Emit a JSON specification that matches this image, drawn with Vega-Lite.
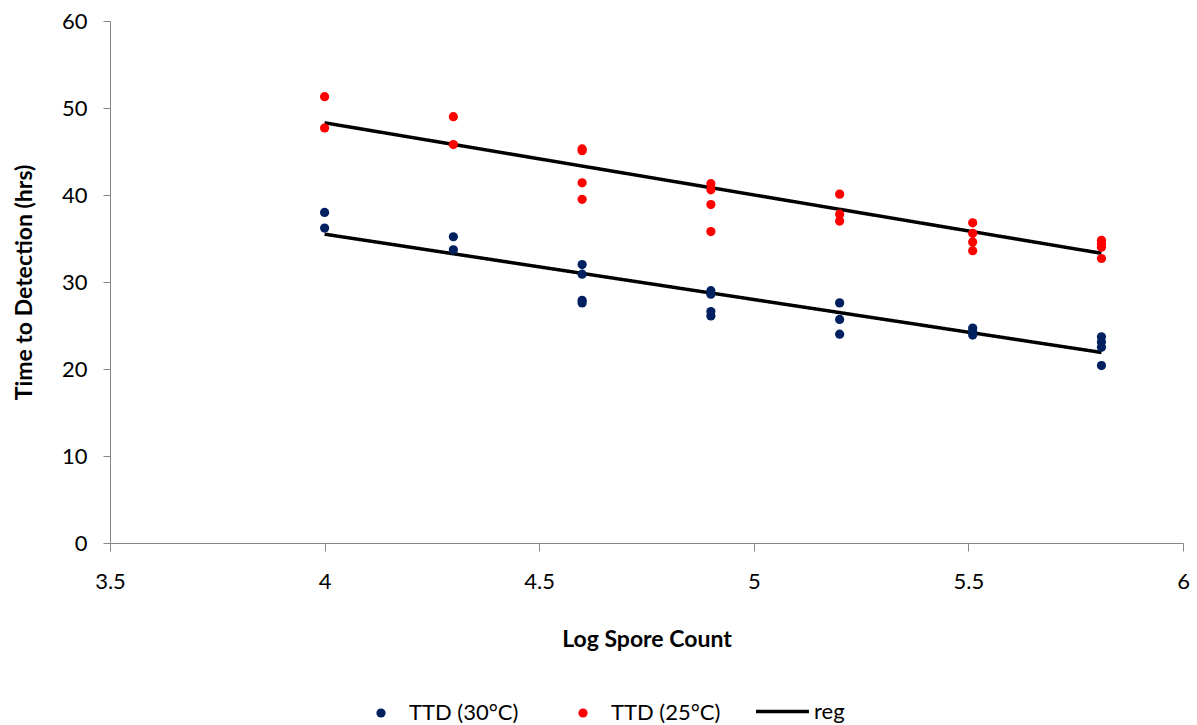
{
  "$schema": "https://vega.github.io/schema/vega-lite/v6.json",
  "width": 1073,
  "height": 522,
  "autosize": "none",
  "padding": {"left": 110, "top": 21, "right": 14, "bottom": 182},
  "config": {
    "font": "Lato",
    "view": {"stroke": null},
    "axis": {
      "grid": false,
      "domainColor": "#868686",
      "tickColor": "#868686",
      "labelFont": "Lato",
      "labelFontSize": 22,
      "labelColor": "#000000",
      "titleFont": "Lato",
      "titleFontSize": 23,
      "titleFontWeight": "bold",
      "titleColor": "#000000"
    }
  },
  "datasets": {
    "pts": [
      {"x": 4.0, "ttd": 38.0, "series": "TTD (30°C)"},
      {"x": 4.0, "ttd": 36.2, "series": "TTD (30°C)"},
      {"x": 4.3, "ttd": 35.2, "series": "TTD (30°C)"},
      {"x": 4.3, "ttd": 33.7, "series": "TTD (30°C)"},
      {"x": 4.6, "ttd": 32.0, "series": "TTD (30°C)"},
      {"x": 4.6, "ttd": 30.9, "series": "TTD (30°C)"},
      {"x": 4.6, "ttd": 27.9, "series": "TTD (30°C)"},
      {"x": 4.6, "ttd": 27.6, "series": "TTD (30°C)"},
      {"x": 4.9, "ttd": 29.0, "series": "TTD (30°C)"},
      {"x": 4.9, "ttd": 28.6, "series": "TTD (30°C)"},
      {"x": 4.9, "ttd": 26.6, "series": "TTD (30°C)"},
      {"x": 4.9, "ttd": 26.1, "series": "TTD (30°C)"},
      {"x": 5.2, "ttd": 27.6, "series": "TTD (30°C)"},
      {"x": 5.2, "ttd": 25.7, "series": "TTD (30°C)"},
      {"x": 5.2, "ttd": 24.0, "series": "TTD (30°C)"},
      {"x": 5.51, "ttd": 24.7, "series": "TTD (30°C)"},
      {"x": 5.51, "ttd": 24.3, "series": "TTD (30°C)"},
      {"x": 5.51, "ttd": 23.9, "series": "TTD (30°C)"},
      {"x": 5.81, "ttd": 23.7, "series": "TTD (30°C)"},
      {"x": 5.81, "ttd": 23.1, "series": "TTD (30°C)"},
      {"x": 5.81, "ttd": 22.5, "series": "TTD (30°C)"},
      {"x": 5.81, "ttd": 20.4, "series": "TTD (30°C)"},
      {"x": 4.0, "ttd": 51.3, "series": "TTD (25°C)"},
      {"x": 4.0, "ttd": 47.7, "series": "TTD (25°C)"},
      {"x": 4.3, "ttd": 49.0, "series": "TTD (25°C)"},
      {"x": 4.3, "ttd": 45.8, "series": "TTD (25°C)"},
      {"x": 4.6, "ttd": 45.3, "series": "TTD (25°C)"},
      {"x": 4.6, "ttd": 45.1, "series": "TTD (25°C)"},
      {"x": 4.6, "ttd": 41.4, "series": "TTD (25°C)"},
      {"x": 4.6, "ttd": 39.5, "series": "TTD (25°C)"},
      {"x": 4.9, "ttd": 41.3, "series": "TTD (25°C)"},
      {"x": 4.9, "ttd": 40.6, "series": "TTD (25°C)"},
      {"x": 4.9, "ttd": 38.9, "series": "TTD (25°C)"},
      {"x": 4.9, "ttd": 35.8, "series": "TTD (25°C)"},
      {"x": 5.2, "ttd": 40.1, "series": "TTD (25°C)"},
      {"x": 5.2, "ttd": 37.8, "series": "TTD (25°C)"},
      {"x": 5.2, "ttd": 37.0, "series": "TTD (25°C)"},
      {"x": 5.51, "ttd": 36.8, "series": "TTD (25°C)"},
      {"x": 5.51, "ttd": 35.6, "series": "TTD (25°C)"},
      {"x": 5.51, "ttd": 34.6, "series": "TTD (25°C)"},
      {"x": 5.51, "ttd": 33.6, "series": "TTD (25°C)"},
      {"x": 5.81, "ttd": 34.8, "series": "TTD (25°C)"},
      {"x": 5.81, "ttd": 34.4, "series": "TTD (25°C)"},
      {"x": 5.81, "ttd": 34.0, "series": "TTD (25°C)"},
      {"x": 5.81, "ttd": 32.7, "series": "TTD (25°C)"}
    ],
    "reg": [
      {"x": 4.0, "ttd": 48.3, "grp": "r25", "series": "reg"},
      {"x": 5.81, "ttd": 33.3, "grp": "r25", "series": "reg"},
      {"x": 4.0, "ttd": 35.5, "grp": "r30", "series": "reg"},
      {"x": 5.81, "ttd": 21.9, "grp": "r30", "series": "reg"}
    ]
  },
  "layer": [
    {
      "data": {"name": "reg"},
      "mark": {"type": "line", "strokeWidth": 3.5, "color": "#000000"},
      "encoding": {
        "x": {"field": "x", "type": "quantitative"},
        "y": {"field": "ttd", "type": "quantitative"},
        "detail": {"field": "grp"},
        "strokeDash": {
          "field": "series",
          "type": "nominal",
          "scale": {"domain": ["reg"], "range": [[1, 0]]},
          "legend": {
            "title": null,
            "orient": "none",
            "direction": "horizontal",
            "legendX": 644,
            "legendY": 662,
            "labelFontSize": 22,
            "labelFont": "Lato",
            "labelColor": "#000000",
            "labelOffset": 3,
            "symbolType": "stroke",
            "symbolSize": 2800,
            "symbolStrokeWidth": 3.5,
            "symbolStrokeColor": "#000000"
          }
        }
      }
    },
    {
      "data": {"name": "pts"},
      "mark": {"type": "circle", "size": 85, "opacity": 1},
      "encoding": {
        "x": {
          "field": "x",
          "type": "quantitative",
          "scale": {"domain": [3.5, 6], "nice": false, "zero": false},
          "axis": {"title": "Log Spore Count", "values": [3.5, 4, 4.5, 5, 5.5, 6], "format": "~g", "tickSize": 8, "labelPadding": 20, "titlePadding": 36, "labelFlush": false}
        },
        "y": {
          "field": "ttd",
          "type": "quantitative",
          "scale": {"domain": [0, 60], "nice": false},
          "axis": {"title": "Time to Detection (hrs)", "values": [0, 10, 20, 30, 40, 50, 60], "tickSize": 7, "labelPadding": 16, "titlePadding": 25}
        },
        "color": {
          "field": "series",
          "type": "nominal",
          "scale": {"domain": ["TTD (30°C)", "TTD (25°C)"], "range": ["#002060", "#FF0000"]},
          "legend": {
            "title": null,
            "orient": "none",
            "direction": "horizontal",
            "legendX": 260,
            "legendY": 681,
            "labelFontSize": 22,
            "labelFont": "Lato",
            "labelColor": "#000000",
            "columnPadding": 53,
            "labelOffset": 17,
            "symbolType": "circle",
            "symbolSize": 85,
            "symbolOpacity": 1
          }
        }
      }
    }
  ]
}
